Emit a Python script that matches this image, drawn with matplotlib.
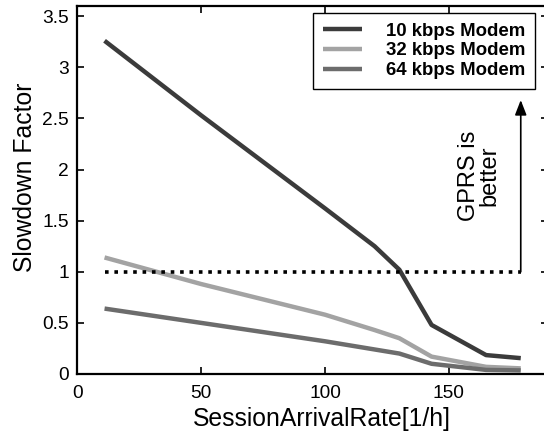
import matplotlib
matplotlib.use("Agg")
import matplotlib.pyplot as plt

# session arrival rate [1/h]
arrival_rate = [11, 50, 100, 120, 130, 143, 165, 179]

# slowdown factor for each modem
slowdown_10k = [3.26, 2.53, 1.62, 1.25, 1.02, 0.48, 0.185, 0.155]
slowdown_32k = [1.14, 0.88, 0.58, 0.43, 0.35, 0.17, 0.07, 0.055]
slowdown_64k = [0.64, 0.50, 0.32, 0.24, 0.20, 0.10, 0.04, 0.035]

series_labels = ['10 kbps Modem', '32 kbps Modem', '64 kbps Modem']
series_colors = ['#3b3b3b', '#a3a3a3', '#6c6c6c']

x_ticks = [0, 50, 100, 150]
y_ticks = [0, 0.5, 1, 1.5, 2, 2.5, 3, 3.5]
y_tick_labels = ['0', '0.5', '1', '1.5', '2', '2.5', '3', '3.5']

plt.rcParams['font.family'] = ['Liberation Sans', 'DejaVu Sans']

fig = plt.figure(figsize=(5.44, 4.33), dpi=100)
# right spine sits just outside the picture, like in the original scan
ax = fig.add_axes([77.3 / 544, 59 / 433, 470.7 / 544, 368 / 433])

for ys, lab, col in zip([slowdown_10k, slowdown_32k, slowdown_64k], series_labels, series_colors):
    ax.plot(arrival_rate, ys, color=col, linewidth=3.2, label=lab, solid_capstyle='butt')

# break-even line
ax.plot([arrival_rate[0], arrival_rate[-1]], [1, 1], color='black', linewidth=2.6,
        linestyle=(0, (1, 1.6)), dash_capstyle='butt')

# arrow + annotation
ax.annotate('', xy=(arrival_rate[-1], 2.68), xytext=(arrival_rate[-1], 1.0),
            arrowprops=dict(arrowstyle='-|>,head_length=0.9,head_width=0.35', color='black',
                            linewidth=1.2, shrinkA=0, shrinkB=0))
ax.text(162.2, 1.94, 'GPRS is\nbetter', rotation=90, fontsize=17, ha='center', va='center',
        multialignment='center', linespacing=0.95)

ax.set_xlim(0, 190)
ax.set_ylim(0, 3.6)
ax.set_xticks(x_ticks)
ax.set_yticks(y_ticks)
ax.set_yticklabels(y_tick_labels)
ax.tick_params(direction='in', length=5, width=1.2, top=True, right=True, labelsize=13.8)
ax.tick_params(axis='x', pad=8)
ax.tick_params(axis='y', pad=6)
for sp in ax.spines.values():
    sp.set_linewidth(1.6)

ax.set_xlabel('SessionArrivalRate[1/h]', fontsize=17.8)
ax.set_ylabel('Slowdown Factor', fontsize=17.8)
ax.xaxis.set_label_coords(0.519, -0.089)
ax.yaxis.set_label_coords(-0.085, 0.535)

leg = ax.legend(loc='upper left', bbox_to_anchor=(313.3 / 544, 1 - 13.3 / 433),
                bbox_transform=fig.transFigure, borderaxespad=0, fancybox=False,
                framealpha=1, edgecolor='black', prop={'size': 13.4, 'weight': 'bold'},
                handlelength=2.1, handletextpad=1.3, borderpad=0.5, labelspacing=0.15)
leg.get_frame().set_linewidth(1.0)

fig.savefig('out.png', dpi=100)
